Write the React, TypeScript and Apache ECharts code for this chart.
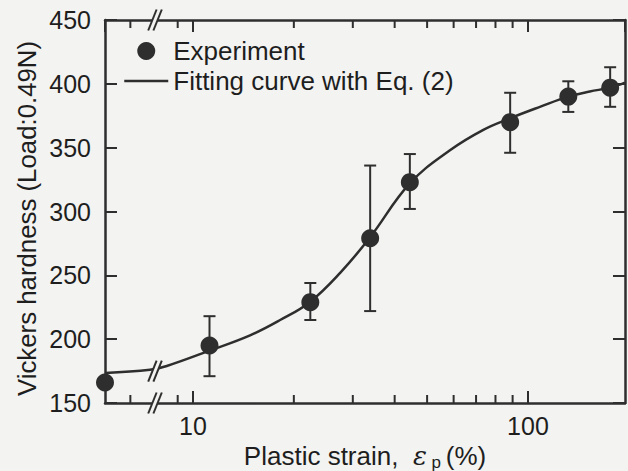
import React, { useEffect, useRef } from "react";
import * as echarts from "echarts";

// ---- data ----
const expStrain = [5.46, 11.2, 22.4, 33.8, 44.4, 88.5, 132, 176];
const expHardness = [166, 195, 229, 279, 323, 370, 390, 397];
const errLower: (number | null)[] = [null, 171, 215, 222, 302, 346, 378, 382];
const errUpper: (number | null)[] = [null, 218, 244, 336, 345, 393, 402, 413];

const fitStrain = [5.46, 7.44, 8.35, 11.2, 14.8, 18.2, 22.3, 27.5, 33.6, 44.4, 58.5, 73.6, 88.4, 108.6, 131.9, 153, 175.6, 194.8];
const fitHardness = [173.5, 176, 179, 191, 203, 215, 229, 252, 279, 322, 348, 364, 373, 382, 390, 394, 397, 401];

const xMin = 5.46;
const xMax = 194.9;
const yMin = 150;
const yMax = 450;
const yInterval = 50;
const minorTicks = [6.5, 9, 20, 30, 40, 50, 60, 70, 80, 90];
const breakStrain = 7.7;
const curveBreakHardness = 175;

const yTitle = "Vickers hardness (Load:0.49N)";

const INK = "#2e2e2e";
const TEXT = "#1e1e1e";
const BG = "#f3f3f1";
const FONT = "'Liberation Sans', Arial, Helvetica, sans-serif";

export default function App() {
  const ref = useRef<HTMLDivElement>(null);

  useEffect(() => {
    if (!ref.current) return;
    const chart = echarts.init(ref.current, null, { renderer: "svg" });

    const axisCommonX = {
      type: "log" as const,
      logBase: 10,
      min: xMin,
      max: xMax,
      axisLine: { show: true, lineStyle: { color: INK, width: 2.5 } },
      axisTick: { show: true, inside: true, length: 12, lineStyle: { color: INK, width: 2 } },
      minorTick: { show: false },
      splitLine: { show: false },
    };
    const axisCommonY = {
      type: "value" as const,
      min: yMin,
      max: yMax,
      interval: yInterval,
      axisLine: { show: true, lineStyle: { color: INK, width: 2.5 } },
      axisTick: { show: true, inside: true, length: 12, lineStyle: { color: INK, width: 2 } },
      splitLine: { show: false },
    };

    const errData = expStrain
      .map((x, i) => [x, errLower[i], errUpper[i]])
      .filter((d) => d[1] != null && d[2] != null);

    chart.setOption({
      animation: false,
      backgroundColor: BG,
      textStyle: { fontFamily: FONT },
      grid: { left: 105, right: 3, top: 20, bottom: 68, containLabel: false, outerBoundsMode: "none" },
      legend: {
        orient: "vertical",
        left: 123,
        top: 38,
        padding: 0,
        itemWidth: 44,
        itemHeight: 18,
        itemGap: 4,
        textStyle: { fontSize: 26, color: TEXT, fontFamily: FONT, lineHeight: 26 },
        data: [
          { name: "Experiment", icon: "circle" },
          {
            name: "Fitting curve with Eq. (2)",
            itemStyle: { opacity: 0, color: "rgba(0,0,0,0)", borderColor: "rgba(0,0,0,0)" },
            lineStyle: { color: INK, width: 2.5 },
          },
        ],
      },
      xAxis: [
        {
          ...axisCommonX,
          position: "bottom",
          name: "{a|Plastic strain,  }{e|ε}{s| p }{a|(%)}",
          nameLocation: "middle",
          nameGap: 23,
          nameTextStyle: {
            rich: {
              a: { fontSize: 26, color: TEXT, fontFamily: FONT },
              e: { fontSize: 26, color: TEXT, fontFamily: "'DejaVu Serif', serif", fontStyle: "italic" },
              s: { fontSize: 17, color: TEXT, fontFamily: FONT, padding: [14, 0, 0, 0] },
            },
          },
          axisLabel: {
            show: true,
            fontSize: 25,
            color: TEXT,
            fontFamily: FONT,
            margin: 10,
            showMinLabel: false,
            showMaxLabel: false,
            formatter: (v: number) => {
              const l = Math.log10(v);
              return Math.abs(l - Math.round(l)) < 1e-6 ? String(Math.round(v)) : "";
            },
          },
        },
        {
          ...axisCommonX,
          position: "top",
          axisLabel: { show: false },
        },
      ],
      yAxis: [
        {
          ...axisCommonY,
          position: "left",
          axisLabel: { show: true, fontSize: 25, color: TEXT, fontFamily: FONT, margin: 14 },
        },
        {
          ...axisCommonY,
          position: "right",
          axisLabel: { show: false },
        },
      ],
      series: [
        {
          name: "Fitting curve with Eq. (2)",
          type: "line",
          xAxisIndex: 0,
          yAxisIndex: 0,
          data: fitStrain.map((x, i) => [x, fitHardness[i]]),
          smooth: 0.4,
          showSymbol: false,
          symbol: "none",
          lineStyle: { color: INK, width: 2.5 },
          itemStyle: { color: INK },
          clip: false,
          z: 2,
        },
        {
          name: "errorbars",
          type: "custom",
          xAxisIndex: 0,
          yAxisIndex: 0,
          data: errData,
          encode: { x: 0, y: [1, 2] },
          clip: false,
          silent: true,
          z: 3,
          renderItem: (params: any, api: any) => {
            const x = api.value(0);
            const pLo = api.coord([x, api.value(1)]);
            const pHi = api.coord([x, api.value(2)]);
            const w = 6;
            const st = { stroke: INK, lineWidth: 2 };
            return {
              type: "group",
              children: [
                { type: "line", shape: { x1: pLo[0], y1: pLo[1], x2: pHi[0], y2: pHi[1] }, style: st },
                { type: "line", shape: { x1: pHi[0] - w, y1: pHi[1], x2: pHi[0] + w, y2: pHi[1] }, style: st },
                { type: "line", shape: { x1: pLo[0] - w, y1: pLo[1], x2: pLo[0] + w, y2: pLo[1] }, style: st },
              ],
            };
          },
        },
        {
          name: "Experiment",
          type: "scatter",
          xAxisIndex: 0,
          yAxisIndex: 0,
          data: expStrain.map((x, i) => [x, expHardness[i]]),
          symbol: "circle",
          symbolSize: 18,
          itemStyle: { color: INK, opacity: 1 },
          clip: false,
          z: 4,
        },
        {
          name: "minorTicks",
          type: "custom",
          xAxisIndex: 0,
          yAxisIndex: 0,
          data: minorTicks.map((v) => [v, yMin]),
          encode: { x: 0, y: 1 },
          clip: false,
          silent: true,
          z: 5,
          renderItem: (params: any, api: any) => {
            const v = api.value(0);
            const b = api.coord([v, yMin]);
            const t = api.coord([v, yMax]);
            const st = { stroke: INK, lineWidth: 2 };
            return {
              type: "group",
              children: [
                { type: "line", shape: { x1: b[0], y1: b[1], x2: b[0], y2: b[1] - 8 }, style: st },
                { type: "line", shape: { x1: t[0], y1: t[1], x2: t[0], y2: t[1] + 8 }, style: st },
              ],
            };
          },
        },
      ],
    });

    // axis-break marks and y title positioned through the chart's own scales
    const toPx = (x: number, y: number) =>
      chart.convertToPixel({ xAxisIndex: 0, yAxisIndex: 0 }, [x, y]) as number[];
    const centers = [toPx(breakStrain, yMin), toPx(breakStrain, yMax), toPx(breakStrain, curveBreakHardness)];
    const graphics: any[] = [];
    centers.forEach((c) => {
      const [cx, cy] = c;
      const h = 10.5;
      const dx = 4.2;
      const sep = 2.6;
      graphics.push({
        type: "polygon",
        z: 100,
        shape: {
          points: [
            [cx - sep - dx, cy + h],
            [cx - sep + dx, cy - h],
            [cx + sep + dx, cy - h],
            [cx + sep - dx, cy + h],
          ],
        },
        style: { fill: BG },
      });
      [-sep, sep].forEach((o) => {
        graphics.push({
          type: "line",
          z: 101,
          shape: { x1: cx + o - dx, y1: cy + h, x2: cx + o + dx, y2: cy - h },
          style: { stroke: INK, lineWidth: 2 },
        });
      });
    });
    const mid = toPx(xMin, (yMin + yMax) / 2);
    graphics.push({
      type: "text",
      z: 100,
      x: mid[0] - 78,
      y: mid[1] + 7,
      rotation: Math.PI / 2,
      style: {
        text: yTitle,
        fontSize: 25.8,
        fontFamily: FONT,
        fill: TEXT,
        align: "center",
        verticalAlign: "middle",
      },
    });
    chart.setOption({ graphic: graphics });

    return () => chart.dispose();
  }, []);

  return (
    <div
      ref={ref}
      style={{ position: "absolute", left: 0, top: 0, width: 628, height: 471 }}
    />
  );
}
